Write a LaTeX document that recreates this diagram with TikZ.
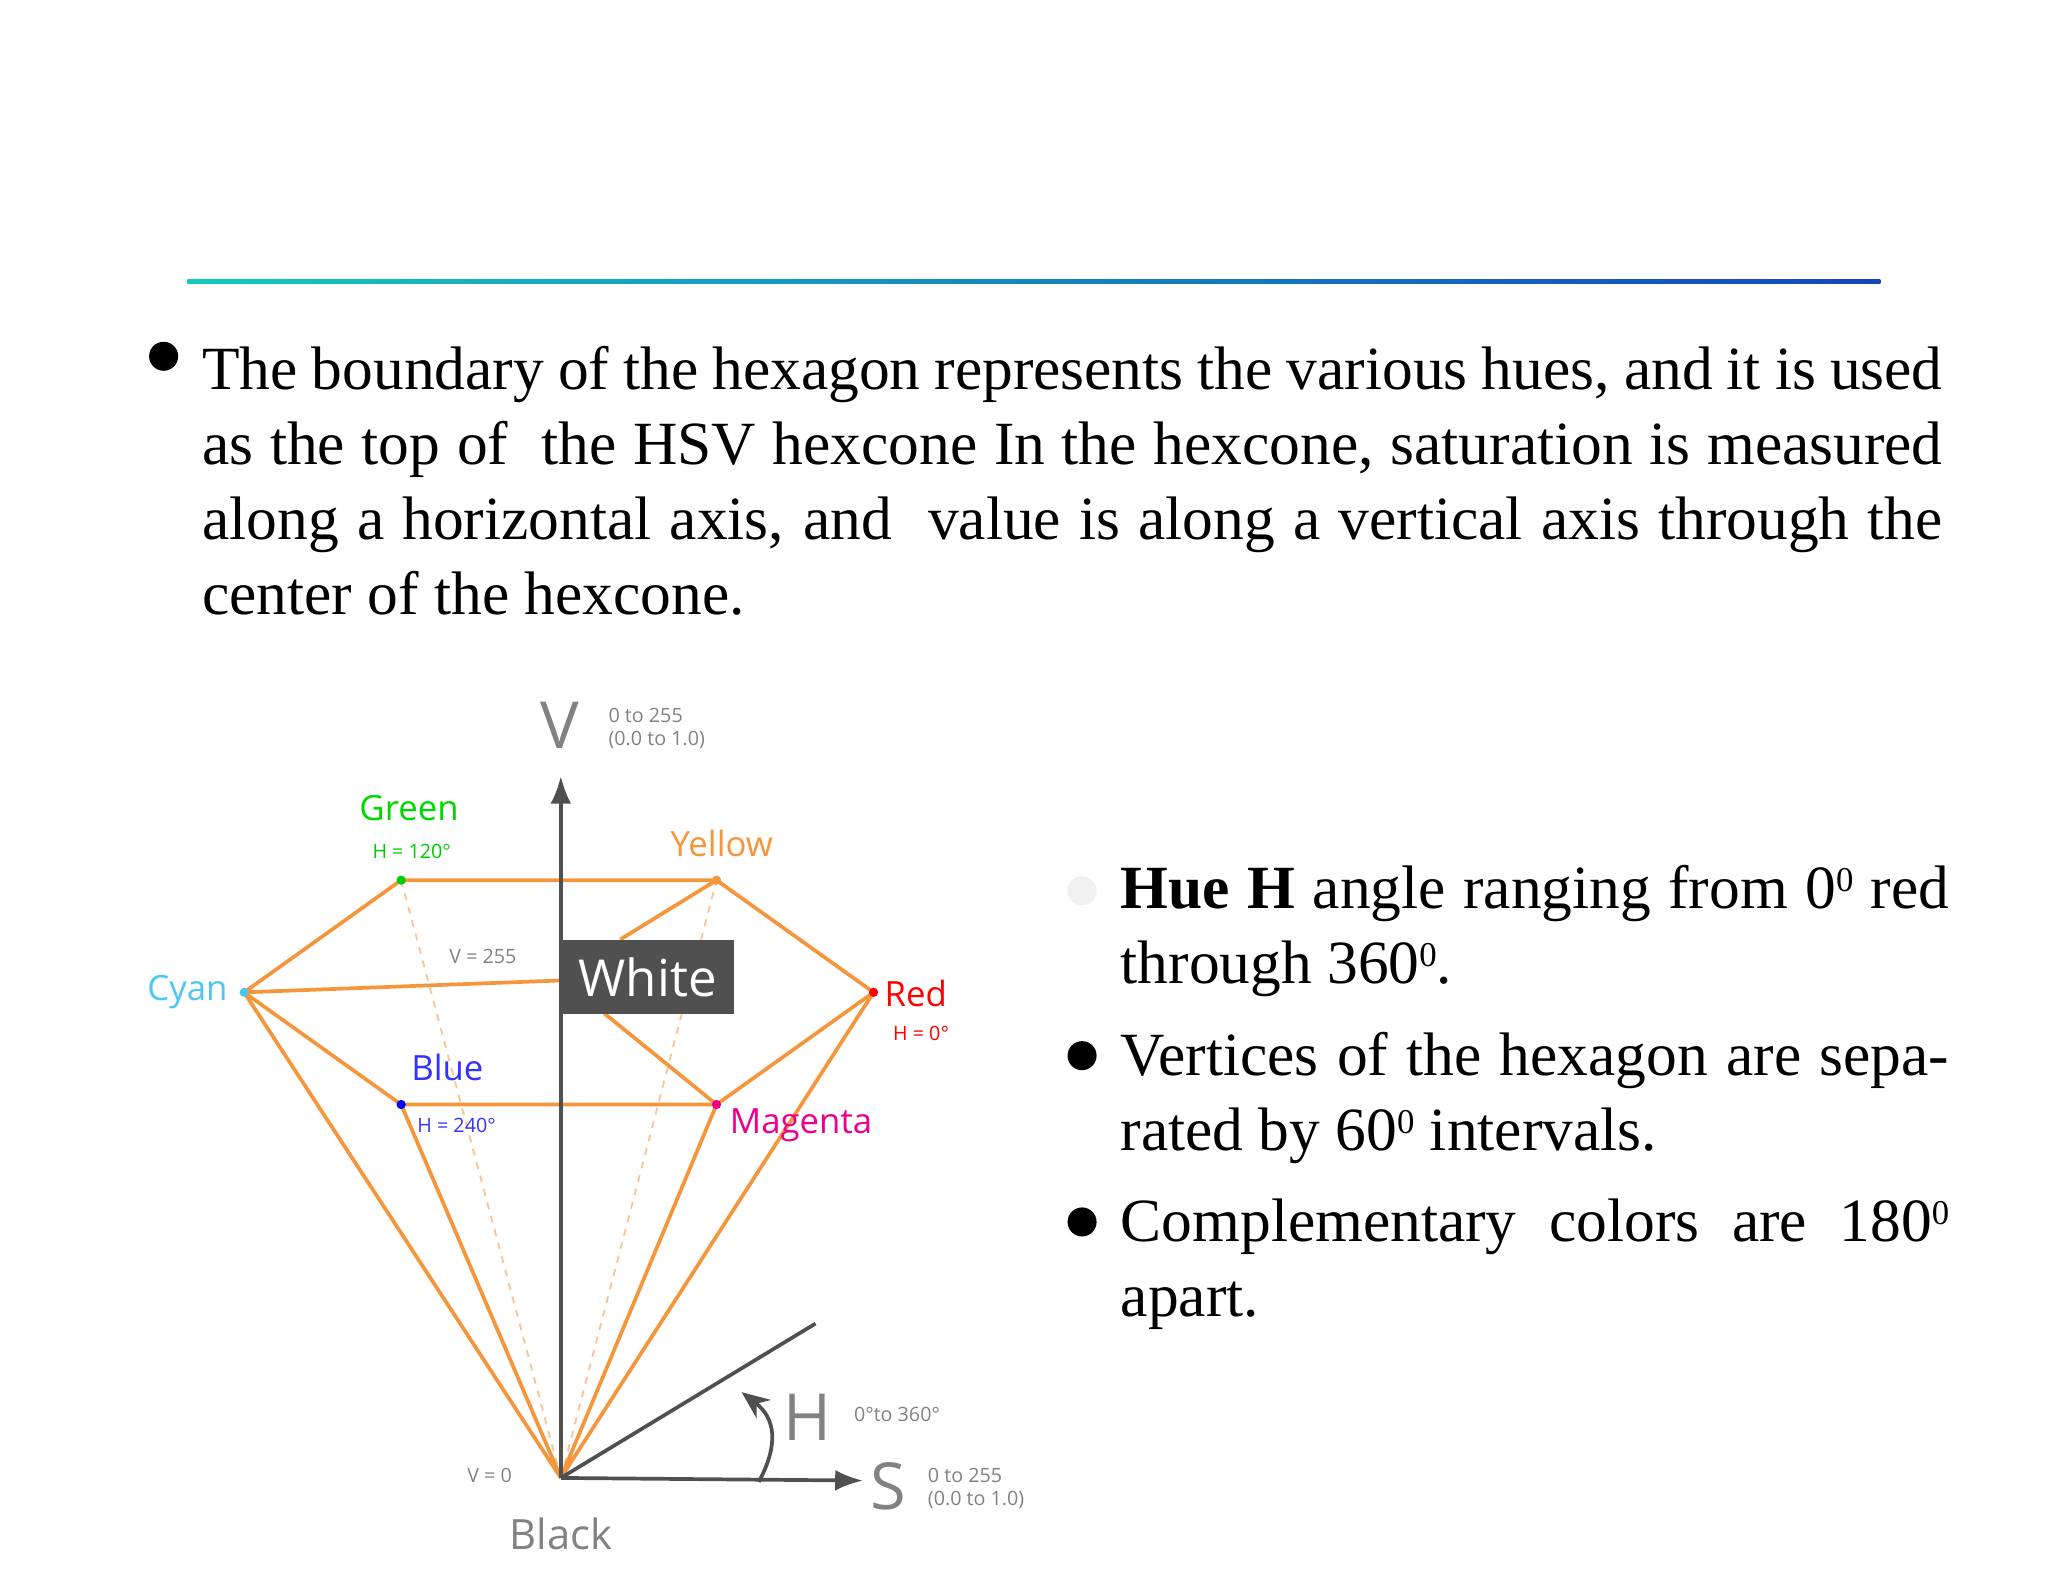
\documentclass[tikz,border=0pt]{standalone}
\usepackage{fontspec}
\setmainfont{Liberation Serif}
\newfontfamily\lab{Open Sans}
\usetikzlibrary{arrows.meta}
\definecolor{org}{RGB}{245,150,60}
\definecolor{axg}{RGB}{80,80,80}
\definecolor{lg}{RGB}{130,130,130}
\definecolor{tealc}{RGB}{20,200,190}
\definecolor{bluec}{RGB}{20,70,190}
\newcommand{\degsup}[1]{\raisebox{0.6ex}{\fontsize{15}{15}\selectfont #1}}
\begin{document}
\begin{tikzpicture}[x=0.02cm,y=-0.02cm,
  edge/.style={org,line width=1.6pt},
  faint/.style={org!55,line width=0.8pt,dashed},
  axis/.style={axg,line width=1.6pt},
  body/.style={font=\fontsize{26.5}{32.4}\selectfont,align=justify,inner sep=0,anchor=north west},
  lbl/.style={font=\lab\fontsize{15}{15}\selectfont},
  sm/.style={font=\lab\fontsize{8.5}{10}\selectfont,lg},
  big/.style={font=\lab\fontsize{28}{28}\selectfont,lg}]
\useasboundingbox (0,0) rectangle (1552,1199);
\shade[left color=tealc,right color=bluec] (142,211.5) rectangle (1425,215);
% top text
\fill (124,270) circle (11);
\node[body,text width=26.38cm] (para) at (153,262) {The boundary of the hexagon represents the various hues, and it is used as the top of \ the HSV hexcone In the hexcone, saturation is measured along a horizontal axis, and \ value is along a vertical axis through the center of the hexcone.\par};
% right list
\fill[black!6] (820,675) circle (11);
\fill (820,800) circle (11);
\fill (820,926) circle (11);
\node[body,text width=12.56cm] (l1) at (849,655) {\textbf{Hue H} angle ranging from 0\degsup{0} red through 360\degsup{0}.\par};
\node[body,text width=12.56cm] (l2) at (849,782) {Vertices of the hexagon are separated by 60\degsup{0} intervals.\par};
\node[body,text width=12.56cm] (l3) at (849,908) {Complementary colors are 180\degsup{0} apart.\par};
% diagram
\coordinate (K) at (425,1120);
\coordinate (G) at (304,667);
\coordinate (Y) at (543,667);
\coordinate (R) at (662,752);
\coordinate (M) at (543,837);
\coordinate (B) at (304,837);
\coordinate (C) at (185,752);
\coordinate (Vt) at (425,588);
\coordinate (St) at (654,1122);
\coordinate (Ht) at (618,1003);
\coordinate (Ctr) at (425,743);
\draw[faint] (K)--(G) (K)--(Y);
\draw[edge] (G)--(Y)--(R)--(M)--(B)--(C)--cycle;
\draw[edge] (K)--(C) (K)--(B) (K)--(M) (K)--(R);
\draw[edge] (C)--(Ctr) (Y)--(470,712) (M)--(458,768);
\draw[axis,-{Latex[length=12pt,width=9pt]}] (K)--(Vt);
\draw[axis,-{Latex[length=12pt,width=9pt]}] (K)--(St);
\draw[axis] (K)--(Ht);
\draw[axis,-{Stealth[length=12pt,width=10pt]}] (575,1123) .. controls (590,1095) and (588,1075) .. (562,1055);
\node[fill=axg,text=white,font=\lab\fontsize{22}{22}\selectfont,minimum width=2.62cm,minimum height=1.12cm,anchor=north west,inner sep=0] (W) at (425,712) {White};
\fill[green!80!black] (G) circle (3.5);
\fill[org] (Y) circle (3.5);
\fill[red] (R) circle (3.5);
\fill[magenta] (M) circle (3.5);
\fill[blue] (B) circle (3.5);
\fill[cyan!70] (C) circle (3.5);
\node[lbl,green!85!black] (gl) at (310,612) {Green};
\node[sm,green!80!black] (gh) at (312,645) {H = 120\textdegree};
\node[lbl,org] (yl) at (547,639) {Yellow};
\node[sm] (v255) at (366,725) {V = 255};
\node[lbl,cyan!70] (cl) at (142,752) {Cyan};
\node[lbl,red] (rl) at (694,753) {Red};
\node[sm,red] (rh) at (698,783) {H = 0\textdegree};
\node[lbl,blue!80] (bl) at (339,809) {Blue};
\node[sm,blue!80] (bh) at (346,853) {H = 240\textdegree};
\node[lbl,magenta] (ml) at (607,853) {Magenta};
\node[big] (V) at (424,550) {V};
\node[sm,align=left,anchor=west] (vr) at (455,552) {0 to 255\\(0.0 to 1.0)};
\node[big] (S) at (673,1126) {S};
\node[sm,align=left,anchor=west] (sr) at (697,1128) {0 to 255\\(0.0 to 1.0)};
\node[big] (H) at (612,1074) {H};
\node[sm,anchor=west] (hr) at (641,1072) {0\textdegree to 360\textdegree};
\node[sm] (v0) at (371,1118) {V = 0};
\node[font=\lab\fontsize{18}{18}\selectfont,lg] (bk) at (425,1162) {Black};
\end{tikzpicture}
\end{document}
